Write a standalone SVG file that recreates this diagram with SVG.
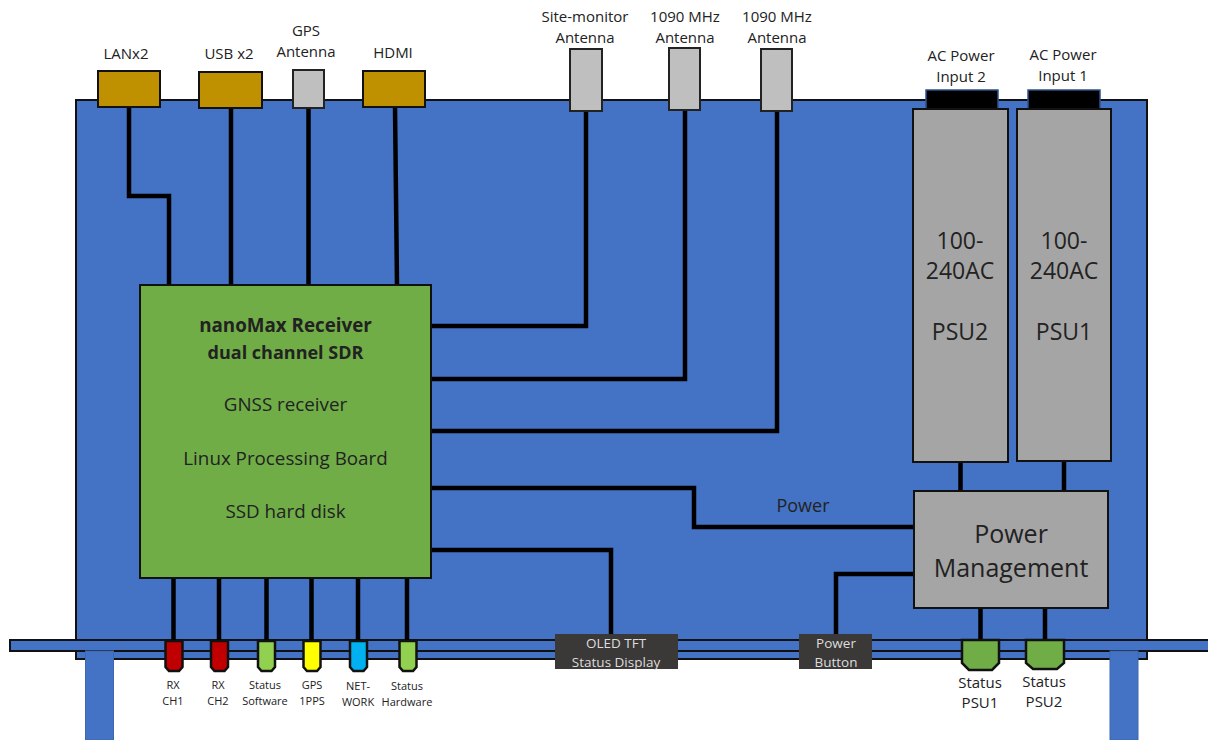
<svg xmlns="http://www.w3.org/2000/svg" width="1208" height="740" viewBox="0 0 1208 740">
<style>
text{font-family:"Open Sans","Noto Sans","Liberation Sans",sans-serif;fill:#222;text-anchor:middle}
.s{font-size:15px}
.xs{font-size:11px}
.st{font-size:15px}
.m{font-size:18.800px}
.l{font-size:23px}
.w{fill:#ddd;font-size:13.500px}
.box{stroke:#111;stroke-width:2}
.gold{fill:#bf9000}
.ant{fill:#bfbfbf;stroke:#222;stroke-width:2}
.psu{fill:#a5a5a5;stroke:#111;stroke-width:2}
.blue{fill:#4472c4;stroke:#111;stroke-width:2}
.conn path{fill:none;stroke:#000;stroke-width:4.500}
.led{stroke:#111;stroke-width:2.500}
</style>
<rect width="1208" height="740" fill="#fff"/>
<g id="chassis">
<rect class="blue" x="76" y="100" width="1071" height="559"/>
<rect class="blue" x="10" y="640" width="1200" height="11"/>
<rect x="85.500" y="651" width="28" height="89" fill="#4472c4" stroke="#3d68b0"/>
<rect x="1110" y="651" width="28" height="89" fill="#4472c4" stroke="#3d68b0"/>
</g>
<g class="conn">
<path d="M129 106V196H169V285"/>
<path d="M231 108V285"/>
<path d="M308.500 108V285"/>
<path d="M395 107L397 285"/>
<path d="M586 110V326H431"/>
<path d="M685 110V379H431"/>
<path d="M777 110V431H431"/>
<path d="M431 488H694V527H914"/>
<path d="M431 550H611V634"/>
<path d="M914 574H836V634"/>
<path d="M960.500 462V491"/>
<path d="M1064 461V491"/>
<path d="M980.500 608V640"/>
<path d="M1045 608V640"/>
<path d="M173.500 578V641"/>
<path d="M219 578V641"/>
<path d="M266.500 578V641"/>
<path d="M311.500 578V641"/>
<path d="M358 578V641"/>
<path d="M407 578V641"/>
</g>
<g id="lan"><rect class="box gold" x="98" y="71" width="62" height="36"/><text class="s" x="126" y="59">LANx2</text></g>
<g id="usb"><rect class="box gold" x="199" y="72" width="63" height="36"/><text class="s" x="229" y="59">USB x2</text></g>
<g id="gps-ant"><rect class="ant" x="293" y="70" width="31" height="38"/><text class="s" x="306" y="36">GPS</text><text class="s" x="306" y="57">Antenna</text></g>
<g id="hdmi"><rect class="box gold" x="363" y="71" width="62" height="36"/><text class="s" x="393" y="58">HDMI</text></g>
<g id="site-ant"><rect class="ant" x="570" y="49" width="32" height="62"/><text class="s" x="585" y="22">Site-monitor</text><text class="s" x="585" y="43">Antenna</text></g>
<g id="ant-1090a"><rect class="ant" x="669" y="48" width="31" height="62"/><text class="s" x="685" y="22">1090 MHz</text><text class="s" x="685" y="43">Antenna</text></g>
<g id="ant-1090b"><rect class="ant" x="761" y="49" width="31" height="62"/><text class="s" x="777" y="22">1090 MHz</text><text class="s" x="777" y="43">Antenna</text></g>
<g id="ac2"><rect x="926" y="90" width="72" height="19" fill="#000" stroke="#2f528f" stroke-width="1.500"/><text class="s" x="961" y="61">AC Power</text><text class="s" x="961" y="82">Input 2</text></g>
<g id="ac1"><rect x="1028" y="90" width="72" height="19" fill="#000" stroke="#2f528f" stroke-width="1.500"/><text class="s" x="1063" y="60">AC Power</text><text class="s" x="1063" y="81">Input 1</text></g>
<g id="psu2"><rect class="psu" x="913" y="109" width="95" height="353"/><text class="l" x="960" y="249">100-</text><text class="l" x="960" y="279">240AC</text><text class="l" x="960" y="340">PSU2</text></g>
<g id="psu1"><rect class="psu" x="1017" y="109" width="94" height="352"/><text class="l" x="1064" y="249">100-</text><text class="l" x="1064" y="279">240AC</text><text class="l" x="1064" y="340">PSU1</text></g>
<g id="receiver">
<rect x="140" y="285" width="291" height="293" fill="#70ad47" stroke="#111" stroke-width="2"/>
<text class="m" x="285.500" y="332" style="font-weight:700">nanoMax Receiver</text>
<text class="m" x="285.500" y="359" style="font-weight:700;font-size:18px">dual channel SDR</text>
<text class="m" x="285.500" y="411">GNSS receiver</text>
<text class="m" x="285.500" y="465">Linux Processing Board</text>
<text class="m" x="285.500" y="518">SSD hard disk</text>
</g>
<g id="power-mgmt"><rect class="psu" x="914" y="491" width="194" height="117"/><text x="1011" y="543" style="font-size:25px">Power</text><text x="1011" y="577" style="font-size:25px">Management</text></g>
<text x="803" y="512" style="font-size:18px">Power</text>
<g id="oled"><rect x="555" y="634" width="123" height="35" fill="#3b3838"/><text class="w" x="616" y="648">OLED TFT</text><text class="w" x="616" y="667">Status Display</text></g>
<g id="power-button"><rect x="799" y="634" width="73" height="35" fill="#3b3838"/><text class="w" x="836" y="648">Power</text><text class="w" x="836" y="667">Button</text></g>
<g id="led-rx1"><path class="led" fill="#c00000" d="M165.500 641H182.500V667L179 671H169L165.500 667Z"/><text class="xs" x="173" y="689">RX</text><text class="xs" x="173" y="705">CH1</text></g>
<g id="led-rx2"><path class="led" fill="#c00000" d="M211 641H228V667L224.500 671H214.500L211 667Z"/><text class="xs" x="218" y="689">RX</text><text class="xs" x="218" y="705">CH2</text></g>
<g id="led-sw"><path class="led" fill="#92d050" d="M258 641H275V667L271.500 671H261.500L258 667Z"/><text class="xs" x="265" y="689">Status</text><text class="xs" x="265" y="705">Software</text></g>
<g id="led-pps"><path class="led" fill="#ff0" d="M303.500 641H320.500V667L317 671H307L303.500 667Z"/><text class="xs" x="312" y="689">GPS</text><text class="xs" x="312" y="705">1PPS</text></g>
<g id="led-net"><path class="led" fill="#00b0f0" d="M350 641H367V667L363.500 671H353.500L350 667Z"/><text class="xs" x="358" y="690">NET-</text><text class="xs" x="358" y="706">WORK</text></g>
<g id="led-hw"><path class="led" fill="#92d050" d="M399.500 641H416.500V667L413 671H403L399.500 667Z"/><text class="xs" x="407" y="690">Status</text><text class="xs" x="407" y="706">Hardware</text></g>
<g id="status-psu1"><path class="led" fill="#70ad47" d="M962 640H999V663L992 670H969L962 663Z"/><text class="st" x="980" y="688">Status</text><text class="st" x="980" y="708">PSU1</text></g>
<g id="status-psu2"><path class="led" fill="#70ad47" d="M1026 640H1064V663L1057 669H1033L1026 663Z"/><text class="st" x="1044" y="687">Status</text><text class="st" x="1044" y="707">PSU2</text></g>
</svg>
